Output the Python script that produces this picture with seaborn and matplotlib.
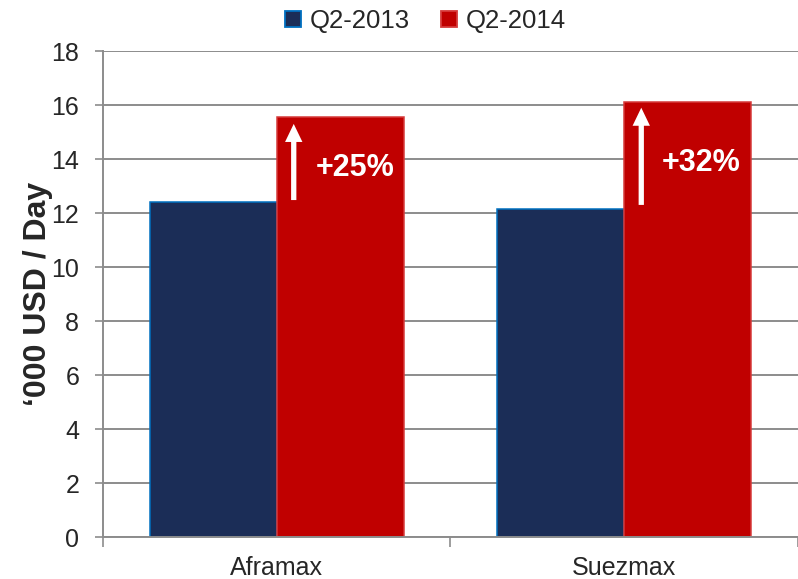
import numpy as np
import pandas as pd
import matplotlib
matplotlib.use("Agg")
import matplotlib.pyplot as plt
import seaborn as sns

# Data
vessels = ["Aframax", "Suezmax"]
periods = ["Q2-2013", "Q2-2014"]
q2_2013 = [12.41, 12.15]
q2_2014 = [15.56, 16.11]
changes = ["+25%", "+32%"]

colors = {"Q2-2013": "#1B2D57", "Q2-2014": "#C00000"}
edges = {"Q2-2013": "#0070C0", "Q2-2014": "#D63A3A"}

df = pd.DataFrame({
    "vessel": vessels * 2,
    "period": [periods[0]] * 2 + [periods[1]] * 2,
    "value": q2_2013 + q2_2014,
})

sns.set_style("white")
plt.rcParams["font.family"] = ["Liberation Sans", "DejaVu Sans"]

fig = plt.figure(figsize=(7.98, 5.79), dpi=100)
ax = fig.add_axes([0.129, 0.0725, 0.871, 0.8394])

sns.barplot(data=df, x="vessel", y="value", hue="period", palette=colors,
            width=0.73, gap=0, saturation=1, ax=ax, legend=False)

# edge colours per series (patches are ordered by hue level)
for i, patch in enumerate(ax.patches[:4]):
    period = periods[i // 2]
    patch.set_edgecolor(edges[period])
    patch.set_linewidth(1.1)

ax.set_xlim(-0.5, 1.485)
ax.set_ylim(0, 18)
ax.set_yticks(np.arange(0, 19, 2))
ax.yaxis.grid(True, color="#8C8C8C", linewidth=1.4)
ax.set_axisbelow(True)

for side in ["top", "right"]:
    ax.spines[side].set_visible(False)
for side in ["left", "bottom"]:
    ax.spines[side].set_color("#8C8C8C")
    ax.spines[side].set_linewidth(1.4)

ax.tick_params(axis="y", length=6, width=1.2, color="#8C8C8C", labelsize=18, pad=11, left=True)
ax.tick_params(axis="x", length=0, labelsize=18, pad=14)
ax.set_xticks([-0.5, 0.5, 1.5], minor=True)
ax.tick_params(axis="x", which="minor", length=7, width=1.2, color="#8C8C8C", bottom=True)

ax.set_xlabel("")
ax.set_ylabel("\u2018000 USD / Day", fontsize=23, fontweight="bold", labelpad=-1)

# growth arrows and labels inside the 2014 bars
arrow_dx = [0.049, 0.049]
arrow_bottom = [12.48, 12.3]
arrow_top = [15.3, 15.9]
text_dx = [0.225, 0.22]
text_y = [13.67, 13.85]
for i in range(len(vessels)):
    ax.annotate("", xy=(i + arrow_dx[i], arrow_top[i]),
                xytext=(i + arrow_dx[i], arrow_bottom[i]),
                arrowprops=dict(width=3.8, headwidth=12.5, headlength=13,
                                facecolor="white", edgecolor="none",
                                shrink=0))
    ax.text(i + text_dx[i], text_y[i], changes[i],
            color="white", fontsize=22, fontweight="bold", ha="center", va="center")

# legend with square markers
handles = [plt.Line2D([], [], marker="s", linestyle="", markersize=11,
                      markerfacecolor=colors[p], markeredgecolor=edges[p],
                      markeredgewidth=1.3) for p in periods]
fig.legend(handles, periods, loc="upper center", bbox_to_anchor=(0.53, 1.025),
           ncol=2, frameon=False, fontsize=18.5, handletextpad=0.15,
           columnspacing=1.0, handlelength=1.0)

fig.savefig("out.png", dpi=100)
